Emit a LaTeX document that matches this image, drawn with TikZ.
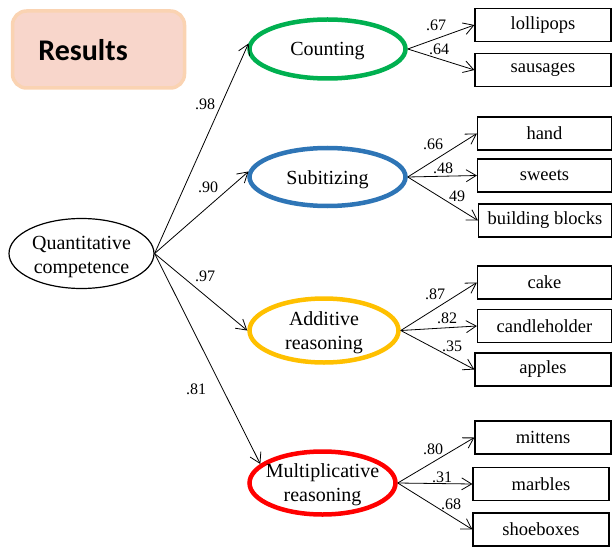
\documentclass[tikz,border=0pt]{standalone}
\usepackage{fontspec}
\setmainfont{Liberation Serif}
\newfontfamily\resfont{Carlito}
\usetikzlibrary{shapes.geometric,arrows.meta}
\definecolor{cgreen}{HTML}{00B050}
\definecolor{cblue}{HTML}{2E75B6}
\definecolor{cgold}{HTML}{FFC000}
\definecolor{cred}{HTML}{FF0000}
\definecolor{resfill}{HTML}{F8D6CB}
\definecolor{resdraw}{HTML}{FAD3B2}
\tikzset{
  factor/.style={ellipse, line width=4.5pt, inner sep=0pt},
  latent/.style={ellipse, draw, line width=1.2pt, inner sep=0pt,
    minimum width=145, minimum height=70},
  ftext/.style={inner sep=0pt, align=center, font=\fontsize{20}{24}\selectfont},
  item/.style={rectangle, draw, line width=1.2pt, inner sep=0pt,
    minimum width=136, minimum height=33, font=\fontsize{18.5}{22}\selectfont},
  load/.style={inner sep=0pt, font=\fontsize{16}{18}\selectfont},
  path/.style={line width=0.8pt, -{Straight Barb[length=10,width=12]}},
}
\begin{document}
\begin{tikzpicture}[x=1pt,y=-1pt]
\useasboundingbox (0,0) rectangle (615,548);
% Results box
\node[draw=resdraw, fill=resfill, line width=3.5pt, rounded corners=14pt,
  minimum width=172, minimum height=77, inner sep=0pt] (res) at (98.5,49.5) {};
\node[inner sep=0pt, font=\resfont\bfseries\fontsize{30}{34}\selectfont] (restext) at (83,50) {Results};
% latent
\node[latent] (qc) at (81.5,253.5) {};
\node[ftext] (qcT) at (81.5,257) {Quantitative\\competence};
% factors
\node[factor, draw=cgreen, minimum width=156, minimum height=59] (cnt) at (327.5,49) {};
\node[factor, draw=cblue, minimum width=156, minimum height=58] (sub) at (327.5,177) {};
\node[factor, draw=cgold, minimum width=149, minimum height=64] (add) at (324,330.5) {};
\node[factor, draw=cred, minimum width=146, minimum height=63] (mul) at (322.5,483) {};
\node[ftext] (cntT) at (327.5,51.5) {Counting};
\node[ftext] (subT) at (327.5,179.5) {Subitizing};
\node[ftext] (addT) at (324,332.5) {Additive\\reasoning};
\node[ftext] (mulT) at (322.5,485) {Multiplicative\\reasoning};
% items
\node[item] (lol) at (543,25) {lollipops};
\node[item] (sau) at (543,70) {sausages};
\node[item, minimum width=134] (hand) at (544.5,133.5) {hand};
\node[item, minimum width=134] (swe) at (544.5,175.5) {sweets};
\node[item, minimum width=133] (bb) at (545,220.5) {building blocks};
\node[item, minimum width=134] (cake) at (544.5,282.5) {cake};
\node[item, minimum width=134] (can) at (544.5,326) {candleholder};
\node[item] (app) at (543,369.5) {apples};
\node[item] (mit) at (543,437.5) {mittens};
\node[item] (mar) at (541,484) {marbles};
\node[item] (sho) at (541,529.5) {shoeboxes};
% paths latent -> factors
\draw[path] (qc.east) -- (cnt.176);
\draw[path] (qc.east) -- (sub.176);
\draw[path] (qc.east) -- (add.west);
\draw[path] (qc.east) -- (mul.163);
% factor -> items
\draw[path] (cnt.east) -- (lol.west);
\draw[path] (cnt.east) -- (sau.west);
\draw[path] (sub.east) -- (hand.west);
\draw[path] (sub.east) -- (swe.west);
\draw[path] (sub.east) -- (bb.west);
\draw[path] (add.east) -- (cake.west);
\draw[path] (add.east) -- (can.west);
\draw[path] (add.east) -- (app.west);
\draw[path] (mul.east) -- (mit.west);
\draw[path] (mul.east) -- (mar.west);
\draw[path] (mul.east) -- (sho.west);
% loadings
\node[load] (l1) at (205,104) {.98};
\node[load] (l2) at (208,187) {.90};
\node[load] (l3) at (205,276) {.97};
\node[load] (l4) at (196,389) {.81};
\node[load] (l5) at (436,25) {.67};
\node[load] (l6) at (439,49) {.64};
\node[load] (l7) at (433,144) {.66};
\node[load] (l8) at (443,168) {.48};
\node[load] (l9) at (457,196) {49};
\node[load] (l10) at (435,294) {.87};
\node[load] (l11) at (447,318) {.82};
\node[load] (l12) at (452,346) {.35};
\node[load] (l13) at (433,449) {.80};
\node[load] (l14) at (442,477) {.31};
\node[load] (l15) at (451,504) {.68};
\end{tikzpicture}
\end{document}
